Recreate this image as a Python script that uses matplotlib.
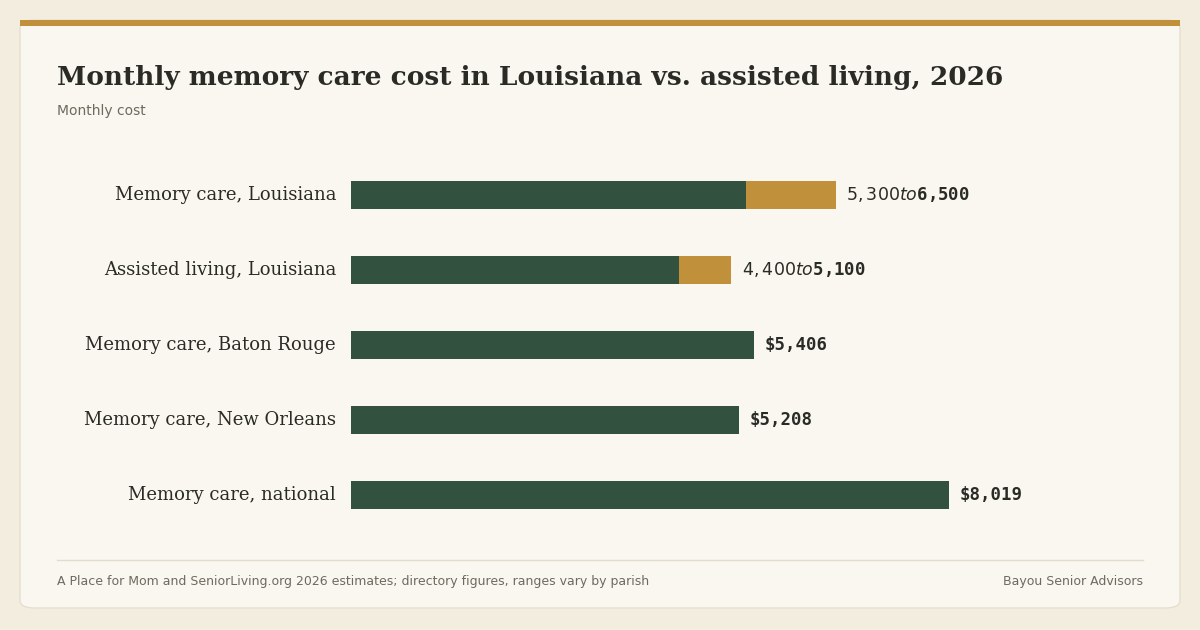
import matplotlib.pyplot as plt
from matplotlib.patches import FancyBboxPatch, Rectangle

categories = ["Memory care, Louisiana", "Assisted living, Louisiana",
              "Memory care, Baton Rouge", "Memory care, New Orleans",
              "Memory care, national"]
low = [5300, 4400, 5406, 5208, 8019]
high = [6500, 5100, None, None, None]
labels = ["$5,300 to $6,500", "$4,400 to $5,100", "$5,406", "$5,208", "$8,019"]

W, H = 1200, 630
green = "#33513f"
gold = "#c0903a"

fig = plt.figure(figsize=(12, 6.3), dpi=100, facecolor="#f3ede0")

def fx(px):
    return px / W

def fy(py):
    return 1 - py / H

# card
fig.patches.append(FancyBboxPatch((fx(20), fy(608)), fx(1160), (588) / H,
                                  boxstyle="round,pad=0,rounding_size=0.012",
                                  transform=fig.transFigure, facecolor="#faf7f0",
                                  edgecolor="#e6dfcf", linewidth=1, zorder=-2))
fig.patches.append(Rectangle((fx(20), fy(26)), fx(1160), 6 / H,
                             transform=fig.transFigure, facecolor=gold, edgecolor="none",
                             zorder=-1))

fig.text(fx(57), fy(78), "Monthly memory care cost in Louisiana vs. assisted living, 2026",
         fontsize=19, fontweight="bold", family="DejaVu Serif", color="#2b2b26", va="center")
fig.text(fx(57), fy(111), "Monthly cost", fontsize=10, color="#6e6a60", va="center")

fig.add_artist(plt.Line2D([fx(57), fx(1143)], [fy(560), fy(560)], color="#e2dccd", lw=1))
fig.text(fx(57), fy(581), "A Place for Mom and SeniorLiving.org 2026 estimates; directory figures, ranges vary by parish",
         fontsize=9, color="#6e6a60", va="center")
fig.text(fx(1143), fy(581), "Bayou Senior Advisors", fontsize=9, color="#6e6a60",
         va="center", ha="right")

ax = fig.add_axes([fx(351), fy(533), fx(949 - 351), 376 / H])
ax.set_zorder(2)
ax.patch.set_alpha(0)
ax.set_xlim(0, 8019)
ax.set_ylim(4.5, -0.5)
ax.axis("off")

bh = 0.37
for i, (lo, hi, lab, cat) in enumerate(zip(low, high, labels, categories)):
    ax.barh(i, lo, height=bh, color=green, edgecolor="none")
    end = lo
    if hi is not None:
        ax.barh(i, hi - lo, left=lo, height=bh, color=gold, edgecolor="none")
        end = hi
    ax.text(end + 140, i, lab, va="center", ha="left", fontsize=12.5,
            family="DejaVu Sans Mono", fontweight="bold", color="#2b2b26")
    ax.text(-200, i, cat, va="center", ha="right", fontsize=13,
            family="DejaVu Serif", color="#2b2b26")

fig.savefig("out.png", dpi=100, facecolor=fig.get_facecolor())
